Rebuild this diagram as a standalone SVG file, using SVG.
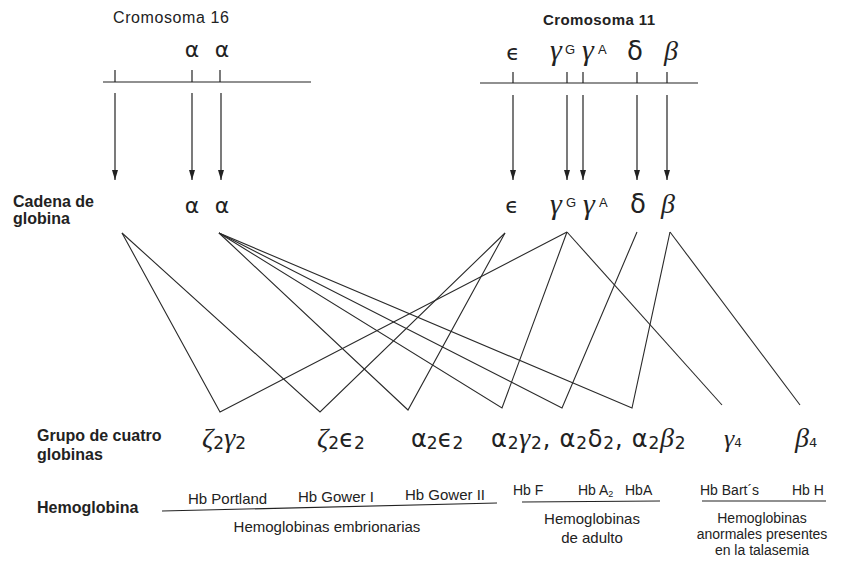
<svg xmlns="http://www.w3.org/2000/svg" width="845" height="564" viewBox="0 0 845 564">
<defs>
<style>
.t{font-family:"Liberation Sans",Arial,sans-serif;fill:#222}
.b{font-family:"Liberation Sans",Arial,sans-serif;font-weight:bold;fill:#222}
.g{font-family:"DejaVu Sans",sans-serif;fill:#222}
.s{font-family:"Liberation Serif","DejaVu Serif",serif;font-style:italic}
.ln{stroke:#222;stroke-width:1.2;fill:none}
.cx{stroke:#2a2a2a;stroke-width:1.1;fill:none;stroke-linejoin:miter}
</style>
<marker id="ah2" markerUnits="userSpaceOnUse" markerWidth="10" markerHeight="6" refX="10" refY="3" orient="auto" viewBox="0 0 10 6">
<path d="M0,0 L10,3 L0,6 z" fill="#222"/>
</marker>
</defs>
<rect width="845" height="564" fill="#fff"/>

<g id="chromosome16">
<text class="t" x="113" y="23" font-size="16" textLength="116" lengthAdjust="spacing" fill="#333">Cromosoma 16</text>
<text class="g" x="192" y="57" font-size="22" text-anchor="middle">α</text>
<text class="g" x="222" y="57" font-size="22" text-anchor="middle">α</text>
<line class="ln" x1="103" y1="82" x2="311" y2="82"/>
<line class="ln" x1="115" y1="70" x2="115" y2="82"/>
<line class="ln" x1="192" y1="70" x2="192" y2="82"/>
<line class="ln" x1="220" y1="70" x2="220" y2="82"/>
</g>

<g id="chromosome11">
<text class="b" x="543" y="25" font-size="15" textLength="112" lengthAdjust="spacing">Cromosoma 11</text>
<text class="g" x="513" y="60" font-size="22" text-anchor="middle">ϵ</text>
<text class="g s" x="556" y="60" font-size="30" text-anchor="middle">γ</text>
<text class="t" x="565" y="54" font-size="13">G</text>
<text class="g s" x="588" y="60" font-size="30" text-anchor="middle">γ</text>
<text class="t" x="598" y="54" font-size="13">A</text>
<text class="g" x="635" y="60" font-size="26" text-anchor="middle">δ</text>
<text class="g s" x="671" y="60" font-size="28" text-anchor="middle">β</text>
<line class="ln" x1="480" y1="83" x2="698" y2="83"/>
<line class="ln" x1="513" y1="72" x2="513" y2="83"/>
<line class="ln" x1="567" y1="72" x2="567" y2="83"/>
<line class="ln" x1="583" y1="72" x2="583" y2="83"/>
<line class="ln" x1="637" y1="72" x2="637" y2="83"/>
<line class="ln" x1="667" y1="72" x2="667" y2="83"/>
</g>

<g id="gene-arrows">
<line class="ln" x1="115" y1="93" x2="115" y2="180" marker-end="url(#ah2)"/>
<line class="ln" x1="192" y1="93" x2="192" y2="180" marker-end="url(#ah2)"/>
<line class="ln" x1="221" y1="93" x2="221" y2="180" marker-end="url(#ah2)"/>
<line class="ln" x1="513" y1="95" x2="513" y2="180" marker-end="url(#ah2)"/>
<line class="ln" x1="567" y1="95" x2="567" y2="180" marker-end="url(#ah2)"/>
<line class="ln" x1="583" y1="95" x2="583" y2="180" marker-end="url(#ah2)"/>
<line class="ln" x1="637" y1="95" x2="637" y2="180" marker-end="url(#ah2)"/>
<line class="ln" x1="667" y1="95" x2="667" y2="180" marker-end="url(#ah2)"/>
</g>

<g id="globin-chains">
<text class="b" x="13" y="207" font-size="16">Cadena de</text>
<text class="b" x="13" y="224" font-size="16">globina</text>
<text class="g" x="192" y="213" font-size="22" text-anchor="middle">α</text>
<text class="g" x="222" y="213" font-size="22" text-anchor="middle">α</text>
<text class="g" x="512" y="213" font-size="22" text-anchor="middle">ϵ</text>
<text class="g s" x="556" y="214" font-size="30" text-anchor="middle">γ</text>
<text class="t" x="566" y="207" font-size="13">G</text>
<text class="g s" x="589" y="214" font-size="30" text-anchor="middle">γ</text>
<text class="t" x="599" y="207" font-size="13">A</text>
<text class="g" x="638" y="213" font-size="26" text-anchor="middle">δ</text>
<text class="g s" x="668" y="213" font-size="28" text-anchor="middle">β</text>
</g>

<g id="connectors">
<polyline class="cx" points="122,233 220,412 567,232"/>
<polyline class="cx" points="122,233 320,412 505,233"/>
<polyline class="cx" points="219,233 408,410 505,233"/>
<polyline class="cx" points="219,233 502,408 567,232"/>
<polyline class="cx" points="219,233 562,408 637,232"/>
<polyline class="cx" points="219,233 632,408 670,232"/>
<line class="cx" x1="567" y1="232" x2="722" y2="405"/>
<line class="cx" x1="670" y1="232" x2="800" y2="405"/>
</g>

<g id="tetramers">
<text class="b" x="37" y="441" font-size="16">Grupo de cuatro</text>
<text class="b" x="37" y="460" font-size="16">globinas</text>
<text class="g" x="202" y="447" font-size="24"><tspan class="s" font-size="28">ζ</tspan><tspan font-size="17" dy="2">2</tspan><tspan class="s" font-size="28" dy="-2">γ</tspan><tspan font-size="17" dy="2">2</tspan></text>
<text class="g" x="317" y="447" font-size="24"><tspan class="s" font-size="28">ζ</tspan><tspan font-size="17" dy="2">2</tspan><tspan dy="-2">ϵ</tspan><tspan font-size="17" dy="2">2</tspan></text>
<text class="g" x="411" y="447" font-size="24">α<tspan font-size="17" dy="2">2</tspan><tspan dy="-2">ϵ</tspan><tspan font-size="17" dy="2">2</tspan></text>
<text class="g" x="491" y="447" font-size="24" letter-spacing="0.8">α<tspan font-size="17" dy="2">2</tspan><tspan class="s" font-size="28" dy="-2">γ</tspan><tspan font-size="17" dy="2">2</tspan><tspan dy="-2">, α</tspan><tspan font-size="17" dy="2">2</tspan><tspan dy="-2">δ</tspan><tspan font-size="17" dy="2">2</tspan><tspan dy="-2">, α</tspan><tspan font-size="17" dy="2">2</tspan><tspan class="s" font-size="28" dy="-2">β</tspan><tspan font-size="17" dy="2">2</tspan></text>
<text class="g" x="724" y="447" font-size="24"><tspan class="s" font-size="26">γ</tspan><tspan font-size="12">4</tspan></text>
<text class="g" x="795" y="447" font-size="24"><tspan class="s" font-size="28">β</tspan><tspan font-size="13">4</tspan></text>
</g>

<g id="hemoglobin-label">
<text class="b" x="37" y="513" font-size="16">Hemoglobina</text>
</g>

<g id="embryonic">
<text class="t" x="188" y="504" font-size="15">Hb Portland</text>
<text class="t" x="298" y="502" font-size="15">Hb Gower I</text>
<text class="t" x="405" y="500" font-size="15">Hb Gower II</text>
<line class="ln" x1="162" y1="511" x2="497" y2="503" stroke-width="1.5"/>
<text class="t" x="327" y="532" font-size="15" text-anchor="middle">Hemoglobinas embrionarias</text>
</g>

<g id="adult">
<text class="t" x="513" y="495" font-size="14">Hb F</text>
<text class="t" x="578" y="495" font-size="14">Hb A<tspan font-size="9" dy="2">2</tspan></text>
<text class="t" x="625" y="495" font-size="14">HbA</text>
<line class="ln" x1="522" y1="502" x2="660" y2="501" stroke-width="1.5"/>
<text class="t" x="592" y="524" font-size="15" text-anchor="middle">Hemoglobinas</text>
<text class="t" x="592" y="543" font-size="15" text-anchor="middle">de adulto</text>
</g>

<g id="thalassemia">
<text class="t" x="700" y="495" font-size="14">Hb Bart´s</text>
<text class="t" x="792" y="495" font-size="14">Hb H</text>
<line class="ln" x1="702" y1="501" x2="826" y2="501" stroke-width="1.5"/>
<text class="t" x="762" y="523" font-size="14" text-anchor="middle">Hemoglobinas</text>
<text class="t" x="762" y="539" font-size="14" text-anchor="middle">anormales presentes</text>
<text class="t" x="762" y="555" font-size="14" text-anchor="middle">en la talasemia</text>
</g>
</svg>
